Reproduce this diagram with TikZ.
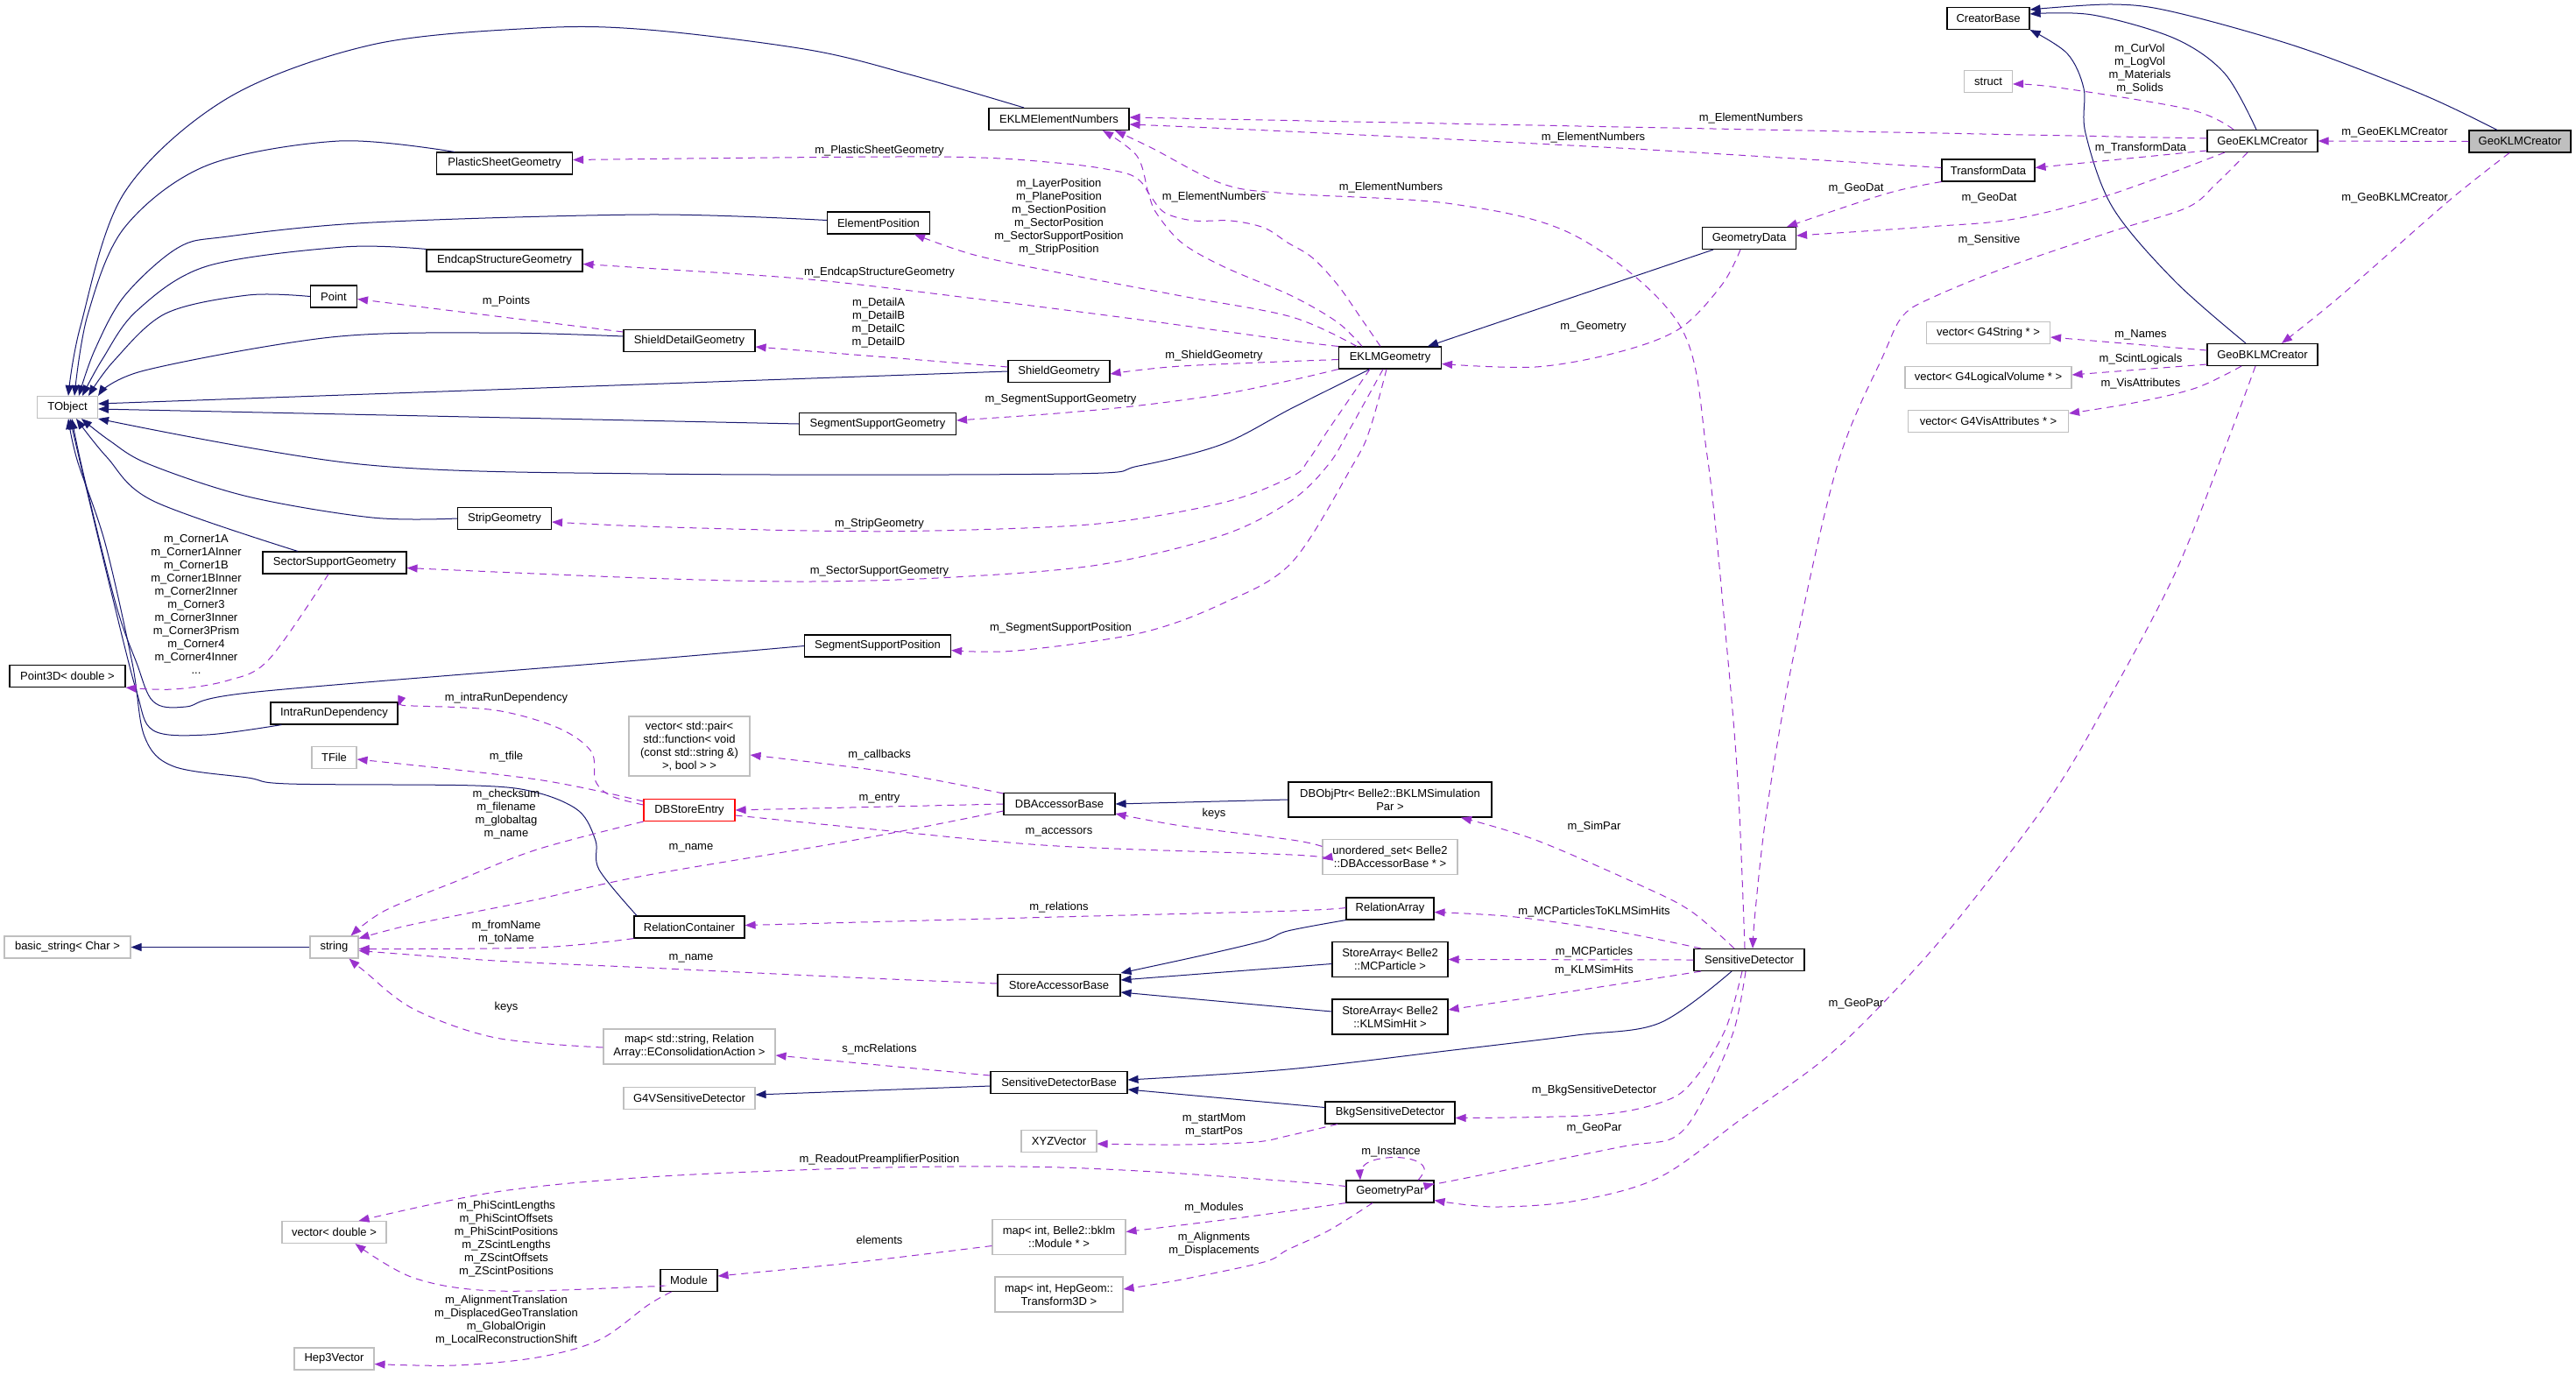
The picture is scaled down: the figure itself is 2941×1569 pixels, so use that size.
\documentclass[tikz,border=0pt]{standalone}
\usepackage{fontspec}
\setmainfont{Liberation Sans}
\usetikzlibrary{arrows.meta}
\definecolor{navy}{HTML}{191970}
\definecolor{orch}{HTML}{9A32CD}
\definecolor{extgray}{HTML}{BFBFBF}
\newcommand\dxf{\fontsize{13}{15}\selectfont}
\begin{document}
\begin{tikzpicture}[x=1pt,y=-1pt,
 cls/.style={draw=black, line width=1.1pt, fill=white, inner sep=0pt, minimum height=25pt, font=\dxf, align=center},
 ext/.style={cls, draw=extgray},
 two/.style={minimum height=40pt},
 lbl/.style={font=\dxf, align=center, inner sep=0pt},
 inh/.style={navy, line width=1pt, -{Triangle[length=12pt,width=9pt]}},
 dep/.style={orch, line width=1pt, dash pattern=on 8pt off 6pt, -{Triangle[length=12pt,width=9pt]}}]
\useasboundingbox[fill=white] (0,0) rectangle (2941,1569);

% ---------- nodes ----------
\node[cls, fill=extgray, minimum width=116pt] (geoklm) at (2877,161.5) {GeoKLMCreator};
\node[cls, minimum width=126pt] (geoekl) at (2583,161) {GeoEKLMCreator};
\node[cls, minimum width=126pt] (geobkl) at (2583,405) {GeoBKLMCreator};
\node[cls, minimum width=94pt] (creator) at (2270,21) {CreatorBase};
\node[ext, minimum width=55pt] (struct) at (2270,93) {struct};
\node[cls, minimum width=106pt] (transform) at (2270,194.5) {TransformData};
\node[ext, minimum width=141pt] (vgstr) at (2270,380) {vector< G4String * >};
\node[ext, minimum width=190pt] (vglog) at (2270,431) {vector< G4LogicalVolume * >};
\node[ext, minimum width=183pt] (vgvis) at (2270,481) {vector< G4VisAttributes * >};
\node[cls, minimum width=107pt] (geodata) at (1997,272) {GeometryData};
\node[cls, minimum width=126pt] (sensdet) at (1997,1096) {SensitiveDetector};
\node[cls, minimum width=160pt] (eklmnum) at (1209,136) {EKLMElementNumbers};
\node[cls, minimum width=117pt] (eklmgeo) at (1587,408.5) {EKLMGeometry};
\node[cls, minimum width=155pt] (plastic) at (576,186.5) {PlasticSheetGeometry};
\node[cls, minimum width=117pt] (elempos) at (1003,254.5) {ElementPosition};
\node[cls, minimum width=178pt] (endcap) at (576,297.5) {EndcapStructureGeometry};
\node[cls, minimum width=53pt] (point) at (381,338.5) {Point};
\node[cls, minimum width=150pt] (shdetail) at (787,389) {ShieldDetailGeometry};
\node[cls, minimum width=116pt] (shield) at (1209,424) {ShieldGeometry};
\node[cls, minimum width=179pt] (segsupgeo) at (1002,484) {SegmentSupportGeometry};
\node[ext, minimum width=69pt] (tobject) at (77,465) {TObject};
\node[cls, minimum width=107pt] (strip) at (576,592) {StripGeometry};
\node[cls, minimum width=164pt] (secsup) at (382,642.5) {SectorSupportGeometry};
\node[cls, minimum width=167pt] (segsuppos) at (1002,737.5) {SegmentSupportPosition};
\node[cls, minimum width=132pt] (point3d) at (77,772) {Point3D< double >};
\node[cls, minimum width=145pt] (intrarun) at (381.5,814.5) {IntraRunDependency};
\node[ext, minimum width=51pt] (tfile) at (381.5,865) {TFile};
\node[ext, minimum width=138pt, minimum height=68pt] (vpair) at (787,852) {vector< std::pair<\\std::function< void\\(const std::string \&)\\>, bool > >};
\node[cls, draw=red, minimum width=104pt] (dbstore) at (787,925) {DBStoreEntry};
\node[cls, minimum width=127pt] (dbacc) at (1209.5,918) {DBAccessorBase};
\node[cls, two, minimum width=232pt] (dbobj) at (1587,913) {DBObjPtr< Belle2::BKLMSimulation\\Par >};
\node[ext, two, minimum width=154pt] (uset) at (1587,978.5) {unordered\_set< Belle2\\::DBAccessorBase * >};
\node[cls, minimum width=100pt] (relarray) at (1587,1037.5) {RelationArray};
\node[cls, minimum width=126pt] (relcont) at (787,1058.5) {RelationContainer};
\node[ext, minimum width=55pt] (string) at (381.5,1081.5) {string};
\node[ext, minimum width=144pt] (basicstr) at (77,1081.5) {basic\_string< Char >};
\node[cls, minimum width=140pt] (storeacc) at (1209,1125) {StoreAccessorBase};
\node[cls, two, minimum width=132pt] (samcp) at (1587,1095.5) {StoreArray< Belle2\\::MCParticle >};
\node[cls, two, minimum width=132pt] (saklm) at (1587,1161) {StoreArray< Belle2\\::KLMSimHit >};
\node[ext, two, minimum width=196pt] (mapstr) at (787,1195) {map< std::string, Relation\\Array::EConsolidationAction >};
\node[ext, minimum width=150pt] (g4vsd) at (787,1254) {G4VSensitiveDetector};
\node[cls, minimum width=156pt] (sdbase) at (1209,1236) {SensitiveDetectorBase};
\node[cls, minimum width=148pt] (bkgsd) at (1587,1270.5) {BkgSensitiveDetector};
\node[ext, minimum width=86pt] (xyz) at (1209,1303) {XYZVector};
\node[cls, minimum width=100pt] (geopar) at (1587,1360.5) {GeometryPar};
\node[ext, minimum width=119pt] (vdouble) at (381.5,1407) {vector< double >};
\node[ext, two, minimum width=152pt] (mapmod) at (1209,1412.5) {map< int, Belle2::bklm\\::Module * >};
\node[cls, minimum width=65pt] (module) at (786.5,1462) {Module};
\node[ext, two, minimum width=146pt] (maptr) at (1209,1478) {map< int, HepGeom::\\Transform3D >};
\node[ext, minimum width=91pt] (hep) at (381.5,1551.5) {Hep3Vector};

% ---------- inheritance ----------
\draw[inh] plot[smooth, tension=0.55] coordinates {([xshift=-40pt]eklmnum.north) (1042,86) (924,57) (740,34) (613,32) (425,51) (260,112) (142,220) (92,372) ([xshift=1pt]tobject.north)};
\draw[inh] plot[smooth, tension=0.55] coordinates {([xshift=-57pt]plastic.north) (387,161) (236,189) (142,260) (100,360) ([xshift=8pt]tobject.north)};
\draw[inh] plot[smooth, tension=0.55] coordinates {([yshift=3pt]elempos.west) (740,245) (425,254) (260,270) (203,283) (142,338) (108,400) ([xshift=13pt]tobject.north)};
\draw[inh] plot[smooth, tension=0.55] coordinates {(endcap.north west) (392,282) (236,304) (156,355) (117,410) ([xshift=17pt]tobject.north)};
\draw[inh] plot[smooth, tension=0.55] coordinates {(point.west) (283,337) (189,358) (130,412) ([xshift=24pt]tobject.north)};
\draw[inh] plot[smooth, tension=0.55] coordinates {([yshift=5pt]shdetail.west) (566,380) (378,385) (165,423) (tobject.north east)};
\draw[inh] (shield.west) -- ([yshift=4pt]tobject.east);
\draw[inh] (segsupgeo.west) -- ([yshift=-2pt]tobject.east);
\draw[inh] plot[smooth, tension=0.55] coordinates {([xshift=-23pt]eklmgeo.south) (1475,466) (1396,507) (1300,532) (1221,541) (740,541) (411,530) (tobject.south east)};
\draw[inh] plot[smooth, tension=0.55] coordinates {(strip.west) (425,591) (283,567) (170,530) (125,503) ([xshift=16pt]tobject.south)};
\draw[inh] plot[smooth, tension=0.55] coordinates {([xshift=-42pt]secsup.north) (175,572) (122,522) ([xshift=10pt]tobject.south)};
\draw[inh] plot[smooth, tension=0.55] coordinates {(segsuppos.west) (740,753) (293,790) (212,807) (175,801) (156,757) (132,689) (95,540) ([xshift=5pt]tobject.south)};
\draw[inh] plot[smooth, tension=0.55] coordinates {([xshift=-60pt]intrarun.south) (236,839) (175,834) (156,790) (128,680) (92,530) ([xshift=3pt]tobject.south)};
\draw[inh] plot[smooth, tension=0.55] coordinates {([xshift=-60pt]relcont.north) (684,993) (680,960) (661,926) (613,905) (543,897) (330,895) (283,888) (198,875) (165,841) (151,757) (120,620) (88,525) ([xshift=1pt]tobject.south)};
\draw[inh] plot[smooth, tension=0.55] coordinates {([xshift=-7pt]geoekl.north) (2540,84) (2483,44) (2389,17) ([yshift=5pt]creator.east)};
\draw[inh] plot[smooth, tension=0.55] coordinates {([xshift=-26pt]geoklm.north) (2766,108) (2625,54) (2483,14) (2412,5) ([yshift=10pt]creator.east)};
\draw[inh] plot[smooth, tension=0.55] coordinates {([xshift=-19pt]geobkl.north) (2483,321) (2412,237) (2381,152) (2379,101) (2360,61) (creator.south east)};
\draw[inh] ([xshift=-41pt]geodata.south) -- ([xshift=43pt]eklmgeo.north);
\draw[inh] (dbobj.west) -- (dbacc.east);
\draw[inh] plot[smooth, tension=0.55] coordinates {(relarray.south west) (1470,1063) (1443,1074) (1372,1091) ([yshift=14pt]storeacc.east)};
\draw[inh] ([yshift=-5pt]samcp.west) -- ([yshift=6pt]storeacc.east);
\draw[inh] ([yshift=6pt]saklm.west) -- ([yshift=-8pt]storeacc.east);
\draw[inh] plot[smooth, tension=0.55] coordinates {([xshift=-20pt]sensdet.south) (1895,1168) (1800,1182) (1659,1199) (1470,1221) ([yshift=3pt]sdbase.east)};
\draw[inh] ([yshift=6pt]bkgsd.west) -- ([yshift=-8pt]sdbase.east);
\draw[inh] ([yshift=-4pt]sdbase.west) -- ([yshift=4pt]g4vsd.east);
\draw[inh] (string.west) -- (basicstr.east);

% ---------- usage ----------
\draw[dep] (geoklm.west) -- (geoekl.east);
\draw[dep] plot[smooth, tension=0.55] coordinates {([xshift=-12pt]geoklm.south) (2795,230) (2672,338) ([xshift=22pt]geobkl.north)};
\draw[dep] plot[smooth, tension=0.55] coordinates {([xshift=-33pt]geoekl.north) (2500,125) (2350,100) ([yshift=-3pt]struct.east)};
\draw[dep] ([yshift=3pt]geoekl.west) -- ([yshift=2pt]eklmnum.east);
\draw[dep] ([yshift=-11pt]geoekl.west) -- ([yshift=3pt]transform.east);
\draw[dep] plot[smooth, tension=0.55] coordinates {([xshift=-43pt]geoekl.south) (2410,222) (2300,250) (2200,259) ([yshift=3pt]geodata.east)};
\draw[dep] plot[smooth, tension=0.55] coordinates {([yshift=3pt]transform.west) (1848,169) (1470,150) ([yshift=-6pt]eklmnum.east)};
\draw[dep] plot[smooth, tension=0.55] coordinates {(transform.south west) (2154,221) ([xshift=43pt]geodata.north)};
\draw[dep] plot[smooth, tension=0.55] coordinates {([xshift=-17pt]geoekl.south) (2530,210) (2497,237) (2412,264) (2294,304) (2210,338) (2173,360) (2150,406) (2098,530) (2046,757) (2017,926) (2004,1040) ([xshift=4pt]sensdet.north)};
\draw[dep] plot[smooth, tension=0.55] coordinates {([xshift=-5pt]sensdet.north) (1984,892) (1970,723) (1949,520) (1918,372) (1800,270) (1659,233) (1470,221) (1396,210) (1315,169) ([xshift=64pt]eklmnum.south)};
\draw[dep] plot[smooth, tension=0.55] coordinates {([xshift=-32pt]eklmgeo.north) (1527,368) (1475,338) (1396,304) (1349,277) (1320,243) (1311,220) (1298,178) ([xshift=50pt]eklmnum.south)};
\draw[dep] plot[smooth, tension=0.55] coordinates {([xshift=-11pt]eklmgeo.north) (1555,365) (1527,325) (1498,294) (1470,277) (1443,260) (1405,252) (1363,252) (1330,243) (1313,223) (1301,206) (1278,196) (1207,186) (1065,179) ([yshift=4pt]plastic.east)};
\draw[dep] plot[smooth, tension=0.55] coordinates {([xshift=-38pt]eklmgeo.north) (1475,362) (1349,338) (1207,311) (1112,291) ([xshift=41pt]elempos.south)};
\draw[dep] plot[smooth, tension=0.55] coordinates {(eklmgeo.north west) (1475,389) (1301,365) (1113,341) (924,319) (735,306) ([yshift=-4pt]endcap.east)};
\draw[dep] plot[smooth, tension=0.55] coordinates {([yshift=-2pt]eklmgeo.west) (1349,418) ([yshift=-3pt]shield.east)};
\draw[dep] plot[smooth, tension=0.55] coordinates {(eklmgeo.south west) (1475,434) (1396,450) (1301,463) (1207,472) ([yshift=4pt]segsupgeo.east)};
\draw[dep] plot[smooth, tension=0.55] coordinates {([xshift=-23pt]eklmgeo.south) (1517,490) (1494,525) (1475,544) (1396,574) (1254,598) (1065,606) (924,606) (735,601) ([yshift=-4pt]strip.east)};
\draw[dep] plot[smooth, tension=0.55] coordinates {([xshift=-8pt]eklmgeo.south) (1541,490) (1517,530) (1475,571) (1396,611) (1254,645) (1089,659) (924,664) (735,660) ([yshift=-6pt]secsup.east)};
\draw[dep] plot[smooth, tension=0.55] coordinates {([xshift=-4pt]eklmgeo.south) (1564,490) (1545,530) (1475,642) (1396,689) (1301,723) (1160,743) ([yshift=-5pt]segsuppos.east)};
\draw[dep] plot[smooth, tension=0.55] coordinates {([xshift=-10pt]geodata.south) (1966,325) (1918,375) (1848,402) (1753,419) ([yshift=-7pt]eklmgeo.east)};
\draw[dep] ([yshift=10pt]shdetail.west) -- ([yshift=-3pt]point.east);
\draw[dep] ([yshift=5pt]shield.west) -- ([yshift=-7pt]shdetail.east);
\draw[dep] plot[smooth, tension=0.55] coordinates {([xshift=-7pt]secsup.south) (307,753) (260,777) (198,787) (point3d.south east)};
\draw[dep] plot[smooth, tension=0.55] coordinates {([xshift=-4pt]sensdet.south) (1980,1175) (1951,1243) (1914,1297) (1848,1310) (1659,1348) ([yshift=9pt]geopar.east)};
\draw[dep] plot[smooth, tension=0.55] coordinates {([xshift=-8pt]sensdet.south) (1970,1175) (1937,1229) (1904,1256) (1824,1273) ([yshift=-6pt]bkgsd.east)};
\draw[dep] plot[smooth, tension=0.55] coordinates {([xshift=-8pt]geobkl.south) (2537,520) (2483,655) (2412,790) (2342,909) (2235,1050) (2154,1141) (2083,1209) (1989,1277) (1895,1344) (1800,1371) (1706,1378) ([yshift=-10pt]geopar.east)};
\draw[dep] plot[smooth, tension=0.55] coordinates {([xshift=-17pt]sensdet.north) (1930,1040) (1871,1010) (1753,959) ([xshift=81pt]dbobj.south)};
\draw[dep] plot[smooth, tension=0.55] coordinates {([xshift=-55pt]sensdet.north) (1848,1064) (1730,1047) ([yshift=-4pt]relarray.east)};
\draw[dep] (sensdet.west) -- (samcp.east);
\draw[dep] plot[smooth, tension=0.55] coordinates {([xshift=-55pt]sensdet.south) (1800,1131) ([yshift=8pt]saklm.east)};
\draw[dep] plot[smooth, tension=0.7] coordinates {([xshift=32pt]geopar.north) (1626,1334) (1612,1324) (1583,1322) (1558,1330) ([xshift=-34pt]geopar.north)};
\draw[dep] plot[smooth, tension=0.55] coordinates {([yshift=6pt]geopar.west) (1475,1349) (1301,1337) (1160,1332) (971,1334) (740,1344) (566,1361) ([xshift=28pt]vdouble.north)};
\draw[dep] plot[smooth, tension=0.55] coordinates {(geopar.south west) (1470,1383) (1396,1393) ([yshift=6pt]mapmod.east)};
\draw[dep] plot[smooth, tension=0.55] coordinates {([xshift=-20pt]geopar.south) (1517,1405) (1470,1427) (1443,1441) (1349,1461) ([yshift=6pt]maptr.east)};
\draw[dep] plot[smooth, tension=0.55] coordinates {([yshift=-10pt]mapmod.west) (971,1442) ([yshift=5pt]module.east)};
\draw[dep] plot[smooth, tension=0.55] coordinates {([yshift=-6pt]module.west) (740,1469) (566,1474) (472,1459) ([xshift=24pt]vdouble.south)};
\draw[dep] plot[smooth, tension=0.55] coordinates {([xshift=-20pt]module.south) (740,1490) (684,1530) (613,1550) (519,1559) ([yshift=-6pt]hep.east)};
\draw[dep] plot[smooth, tension=0.55] coordinates {([xshift=-60pt]bkgsd.south) (1470,1297) (1433,1304) (1348,1307) ([yshift=-3pt]xyz.east)};
\draw[dep] ([yshift=8pt]sdbase.west) -- ([yshift=-10pt]mapstr.east);
\draw[dep] plot[smooth, tension=0.55] coordinates {([yshift=-1pt]mapstr.west) (566,1185) (472,1152) (415,1108) ([xshift=17pt]string.south)};
\draw[dep] plot[smooth, tension=0.55] coordinates {([yshift=2pt]storeacc.west) (971,1116) (740,1105) (566,1097) ([yshift=-4pt]string.east)};
\draw[dep] plot[smooth, tension=0.55] coordinates {(relcont.south west) (613,1082) ([yshift=-2pt]string.east)};
\draw[dep] plot[smooth, tension=0.55] coordinates {([yshift=-8pt]dbacc.west) (971,960) (735,1000) (613,1027) (533,1043) (460,1058) ([yshift=10pt]string.east)};
\draw[dep] plot[smooth, tension=0.55] coordinates {(dbstore.south west) (613,970) (519,1007) (439,1040) ([xshift=19pt]string.north)};
\draw[dep] (dbacc.west) -- (dbstore.east);
\draw[dep] plot[smooth, tension=0.55] coordinates {([yshift=12pt]dbacc.west) (1018,882) ([yshift=-10pt]vpair.east)};
\draw[dep] plot[smooth, tension=0.55] coordinates {([yshift=10pt]dbstore.west) (613,890) ([yshift=-2pt]tfile.east)};
\draw[dep] plot[smooth, tension=0.55] coordinates {([yshift=6pt]dbstore.west) (698,909) (680,892) (675,858) (637,831) (566,811) (472,806) ([yshift=8pt]intrarun.east)};
\draw[dep] plot[smooth, tension=0.55] coordinates {([yshift=-6pt]dbstore.east) (1018,949) (1207,966) (1475,976) ([yshift=-2pt]uset.west)};
\draw[dep] plot[smooth, tension=0.55] coordinates {([yshift=12pt]uset.west) (1475,959) (1349,943) ([yshift=-11pt]dbacc.east)};
\draw[dep] plot[smooth, tension=0.55] coordinates {([yshift=1pt]relarray.west) (1475,1040) (1207,1047) ([yshift=2pt]relcont.east)};
\draw[dep] ([yshift=5pt]geobkl.west) -- ([yshift=-5pt]vgstr.east);
\draw[dep] ([yshift=-11pt]geobkl.west) -- ([yshift=3pt]vglog.east);
\draw[dep] plot[smooth, tension=0.55] coordinates {([xshift=-24pt]geobkl.south) (2507,443) (2436,460) ([yshift=9pt]vgvis.east)};

% ---------- labels ----------
\node[lbl] (t1) at (2734,151) {m\_GeoEKLMCreator};
\node[lbl] (t2) at (2734,226) {m\_GeoBKLMCreator};
\node[lbl] (t3) at (2443,79) {m\_CurVol\\m\_LogVol\\m\_Materials\\m\_Solids};
\node[lbl] (t4) at (2444,169) {m\_TransformData};
\node[lbl] (t5) at (2271,226) {m\_GeoDat};
\node[lbl] (t6) at (2271,274) {m\_Sensitive};
\node[lbl] (t7) at (1999,135) {m\_ElementNumbers};
\node[lbl] (t8) at (1819,157) {m\_ElementNumbers};
\node[lbl] (t9) at (2119,215) {m\_GeoDat};
\node[lbl] (t10) at (1588,214) {m\_ElementNumbers};
\node[lbl] (t11) at (1819,373) {m\_Geometry};
\node[lbl] (t12) at (1386,225) {m\_ElementNumbers};
\node[lbl] (t13) at (1004,172) {m\_PlasticSheetGeometry};
\node[lbl] (t14) at (1209,248) {m\_LayerPosition\\m\_PlanePosition\\m\_SectionPosition\\m\_SectorPosition\\m\_SectorSupportPosition\\m\_StripPosition};
\node[lbl] (t15) at (1004,311) {m\_EndcapStructureGeometry};
\node[lbl] (t16) at (578,344) {m\_Points};
\node[lbl] (t17) at (1003,369) {m\_DetailA\\m\_DetailB\\m\_DetailC\\m\_DetailD};
\node[lbl] (t18) at (1386,406) {m\_ShieldGeometry};
\node[lbl] (t19) at (1211,456) {m\_SegmentSupportGeometry};
\node[lbl] (t20) at (1004,598) {m\_StripGeometry};
\node[lbl] (t21) at (1004,652) {m\_SectorSupportGeometry};
\node[lbl] (t22) at (1211,717) {m\_SegmentSupportPosition};
\node[lbl] (t23) at (224,690) {m\_Corner1A\\m\_Corner1AInner\\m\_Corner1B\\m\_Corner1BInner\\m\_Corner2Inner\\m\_Corner3\\m\_Corner3Inner\\m\_Corner3Prism\\m\_Corner4\\m\_Corner4Inner\\...};
\node[lbl] (t24) at (578,797) {m\_intraRunDependency};
\node[lbl] (t25) at (578,864) {m\_tfile};
\node[lbl] (t26) at (578,930) {m\_checksum\\m\_filename\\m\_globaltag\\m\_name};
\node[lbl] (t27) at (1004,862) {m\_callbacks};
\node[lbl] (t28) at (1004,912) {m\_entry};
\node[lbl] (t29) at (1386,929) {keys};
\node[lbl] (t30) at (1209,950) {m\_accessors};
\node[lbl] (t31) at (789,968) {m\_name};
\node[lbl] (t32) at (1209,1036) {m\_relations};
\node[lbl] (t33) at (1820,944) {m\_SimPar};
\node[lbl] (t34) at (1820,1041) {m\_MCParticlesToKLMSimHits};
\node[lbl] (t35) at (578,1065) {m\_fromName\\m\_toName};
\node[lbl] (t36) at (789,1094) {m\_name};
\node[lbl] (t37) at (578,1150) {keys};
\node[lbl] (t38) at (1004,1198) {s\_mcRelations};
\node[lbl] (t39) at (1820,1087) {m\_MCParticles};
\node[lbl] (t40) at (1820,1108) {m\_KLMSimHits};
\node[lbl] (t41) at (2119,1146) {m\_GeoPar};
\node[lbl] (t42) at (1820,1245) {m\_BkgSensitiveDetector};
\node[lbl] (t43) at (1820,1288) {m\_GeoPar};
\node[lbl] (t44) at (1386,1285) {m\_startMom\\m\_startPos};
\node[lbl] (t45) at (1588,1315) {m\_Instance};
\node[lbl] (t46) at (1004,1324) {m\_ReadoutPreamplifierPosition};
\node[lbl] (t47) at (1386,1379) {m\_Modules};
\node[lbl] (t48) at (1386,1421) {m\_Alignments\\m\_Displacements};
\node[lbl] (t49) at (1004,1416) {elements};
\node[lbl] (t50) at (578,1415) {m\_PhiScintLengths\\m\_PhiScintOffsets\\m\_PhiScintPositions\\m\_ZScintLengths\\m\_ZScintOffsets\\m\_ZScintPositions};
\node[lbl] (t51) at (578,1508) {m\_AlignmentTranslation\\m\_DisplacedGeoTranslation\\m\_GlobalOrigin\\m\_LocalReconstructionShift};
\node[lbl] (t52) at (2444,382) {m\_Names};
\node[lbl] (t53) at (2444,410) {m\_ScintLogicals};
\node[lbl] (t54) at (2444,438) {m\_VisAttributes};
\end{tikzpicture}
\end{document}
